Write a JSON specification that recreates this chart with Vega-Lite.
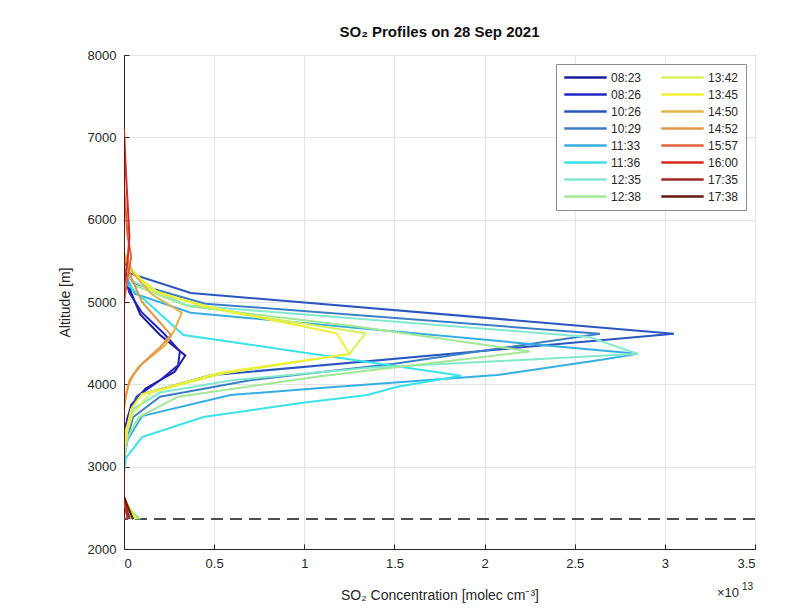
{
  "$schema": "https://vega.github.io/schema/vega-lite/v6.json",
  "autosize": {"type": "none"},
  "width": 631,
  "height": 494,
  "padding": {"left": 124, "top": 55, "right": 53, "bottom": 63},
  "background": "white",
  "config": {
    "font": "Liberation Sans",
    "view": {"stroke": "#262626", "strokeWidth": 1},
    "axis": {
      "labelFont": "Liberation Sans",
      "labelFontSize": 13,
      "labelColor": "#262626",
      "titleFont": "Liberation Sans",
      "titleFontSize": 14,
      "titleFontWeight": "normal",
      "titleColor": "#262626",
      "domainColor": "#262626",
      "tickColor": "#262626",
      "gridColor": "#e3e3e3",
      "gridWidth": 1
    }
  },
  "title": {
    "text": "SO₂ Profiles on 28 Sep 2021",
    "font": "Liberation Sans",
    "fontSize": 15,
    "fontWeight": "bold",
    "color": "#111111",
    "anchor": "middle",
    "offset": 9
  },
  "datasets": {
    "profiles": [
      {"time": "08:23", "alt": 2364, "conc": 0.03},
      {"time": "08:23", "alt": 2630, "conc": 0},
      {"time": "08:23", "alt": 3200, "conc": 0},
      {"time": "08:23", "alt": 3500, "conc": 0.01},
      {"time": "08:23", "alt": 3750, "conc": 0.04},
      {"time": "08:23", "alt": 3950, "conc": 0.12},
      {"time": "08:23", "alt": 4150, "conc": 0.28},
      {"time": "08:23", "alt": 4350, "conc": 0.34},
      {"time": "08:23", "alt": 4600, "conc": 0.2},
      {"time": "08:23", "alt": 4850, "conc": 0.09},
      {"time": "08:23", "alt": 5110, "conc": 0.04},
      {"time": "08:23", "alt": 5350, "conc": 0.01},
      {"time": "08:23", "alt": 5600, "conc": 0},

      {"time": "08:26", "alt": 2364, "conc": 0.04},
      {"time": "08:26", "alt": 2630, "conc": 0},
      {"time": "08:26", "alt": 3300, "conc": 0},
      {"time": "08:26", "alt": 3600, "conc": 0.02},
      {"time": "08:26", "alt": 3850, "conc": 0.07},
      {"time": "08:26", "alt": 4050, "conc": 0.2},
      {"time": "08:26", "alt": 4230, "conc": 0.3},
      {"time": "08:26", "alt": 4400, "conc": 0.31},
      {"time": "08:26", "alt": 4620, "conc": 0.22},
      {"time": "08:26", "alt": 4870, "conc": 0.1},
      {"time": "08:26", "alt": 5110, "conc": 0.03},
      {"time": "08:26", "alt": 5350, "conc": 0},

      {"time": "10:26", "alt": 2364, "conc": 0.05},
      {"time": "10:26", "alt": 2630, "conc": 0},
      {"time": "10:26", "alt": 3250, "conc": 0},
      {"time": "10:26", "alt": 3500, "conc": 0.02},
      {"time": "10:26", "alt": 3700, "conc": 0.04},
      {"time": "10:26", "alt": 3870, "conc": 0.08},
      {"time": "10:26", "alt": 4110, "conc": 0.48},
      {"time": "10:26", "alt": 4615, "conc": 3.05},
      {"time": "10:26", "alt": 5110, "conc": 0.37},
      {"time": "10:26", "alt": 5350, "conc": 0.03},
      {"time": "10:26", "alt": 5600, "conc": 0},

      {"time": "10:29", "alt": 2364, "conc": 0.05},
      {"time": "10:29", "alt": 2630, "conc": 0},
      {"time": "10:29", "alt": 3100, "conc": 0},
      {"time": "10:29", "alt": 3350, "conc": 0.02},
      {"time": "10:29", "alt": 3600, "conc": 0.05},
      {"time": "10:29", "alt": 3850, "conc": 0.2},
      {"time": "10:29", "alt": 4050, "conc": 0.7},
      {"time": "10:29", "alt": 4250, "conc": 1.5},
      {"time": "10:29", "alt": 4615, "conc": 2.64},
      {"time": "10:29", "alt": 4980, "conc": 0.45},
      {"time": "10:29", "alt": 5230, "conc": 0.05},
      {"time": "10:29", "alt": 5450, "conc": 0},

      {"time": "11:33", "alt": 2364, "conc": 0.06},
      {"time": "11:33", "alt": 2630, "conc": 0},
      {"time": "11:33", "alt": 3100, "conc": 0},
      {"time": "11:33", "alt": 3324, "conc": 0.02},
      {"time": "11:33", "alt": 3615, "conc": 0.1},
      {"time": "11:33", "alt": 3870, "conc": 0.59},
      {"time": "11:33", "alt": 3955, "conc": 1.09},
      {"time": "11:33", "alt": 4113, "conc": 2.07},
      {"time": "11:33", "alt": 4296, "conc": 2.64},
      {"time": "11:33", "alt": 4370, "conc": 2.85},
      {"time": "11:33", "alt": 4870, "conc": 0.37},
      {"time": "11:33", "alt": 5100, "conc": 0.06},
      {"time": "11:33", "alt": 5350, "conc": 0},

      {"time": "11:36", "alt": 2364, "conc": 0.04},
      {"time": "11:36", "alt": 2630, "conc": 0},
      {"time": "11:36", "alt": 2900, "conc": 0},
      {"time": "11:36", "alt": 3105, "conc": 0.01},
      {"time": "11:36", "alt": 3360, "conc": 0.1},
      {"time": "11:36", "alt": 3603, "conc": 0.44},
      {"time": "11:36", "alt": 3773, "conc": 0.98},
      {"time": "11:36", "alt": 3870, "conc": 1.35},
      {"time": "11:36", "alt": 3968, "conc": 1.51},
      {"time": "11:36", "alt": 4105, "conc": 1.87},
      {"time": "11:36", "alt": 4600, "conc": 0.33},
      {"time": "11:36", "alt": 5230, "conc": 0.01},
      {"time": "11:36", "alt": 5400, "conc": 0},

      {"time": "12:35", "alt": 2364, "conc": 0.08},
      {"time": "12:35", "alt": 2530, "conc": 0.01},
      {"time": "12:35", "alt": 2630, "conc": 0},
      {"time": "12:35", "alt": 3200, "conc": 0},
      {"time": "12:35", "alt": 3450, "conc": 0.01},
      {"time": "12:35", "alt": 3700, "conc": 0.05},
      {"time": "12:35", "alt": 3900, "conc": 0.2},
      {"time": "12:35", "alt": 4050, "conc": 0.6},
      {"time": "12:35", "alt": 4200, "conc": 1.36},
      {"time": "12:35", "alt": 4370, "conc": 2.85},
      {"time": "12:35", "alt": 4575, "conc": 2.58},
      {"time": "12:35", "alt": 4960, "conc": 0.35},
      {"time": "12:35", "alt": 5250, "conc": 0.05},
      {"time": "12:35", "alt": 5450, "conc": 0},

      {"time": "12:38", "alt": 2364, "conc": 0.09},
      {"time": "12:38", "alt": 2530, "conc": 0.01},
      {"time": "12:38", "alt": 2630, "conc": 0},
      {"time": "12:38", "alt": 3100, "conc": 0},
      {"time": "12:38", "alt": 3350, "conc": 0.02},
      {"time": "12:38", "alt": 3600, "conc": 0.08},
      {"time": "12:38", "alt": 3850, "conc": 0.3},
      {"time": "12:38", "alt": 4100, "conc": 1.1},
      {"time": "12:38", "alt": 4400, "conc": 2.25},
      {"time": "12:38", "alt": 4700, "conc": 1.3},
      {"time": "12:38", "alt": 4950, "conc": 0.35},
      {"time": "12:38", "alt": 5200, "conc": 0.06},
      {"time": "12:38", "alt": 5450, "conc": 0},

      {"time": "13:42", "alt": 2364, "conc": 0.07},
      {"time": "13:42", "alt": 2530, "conc": 0.01},
      {"time": "13:42", "alt": 2630, "conc": 0},
      {"time": "13:42", "alt": 3200, "conc": 0},
      {"time": "13:42", "alt": 3450, "conc": 0.02},
      {"time": "13:42", "alt": 3650, "conc": 0.05},
      {"time": "13:42", "alt": 3900, "conc": 0.15},
      {"time": "13:42", "alt": 4130, "conc": 0.55},
      {"time": "13:42", "alt": 4370, "conc": 1.25},
      {"time": "13:42", "alt": 4620, "conc": 1.34},
      {"time": "13:42", "alt": 4870, "conc": 0.6},
      {"time": "13:42", "alt": 5100, "conc": 0.2},
      {"time": "13:42", "alt": 5350, "conc": 0.05},
      {"time": "13:42", "alt": 5550, "conc": 0},

      {"time": "13:45", "alt": 2364, "conc": 0.06},
      {"time": "13:45", "alt": 2630, "conc": 0},
      {"time": "13:45", "alt": 3250, "conc": 0},
      {"time": "13:45", "alt": 3500, "conc": 0.02},
      {"time": "13:45", "alt": 3700, "conc": 0.04},
      {"time": "13:45", "alt": 3880, "conc": 0.1},
      {"time": "13:45", "alt": 4140, "conc": 0.53},
      {"time": "13:45", "alt": 4370, "conc": 1.25},
      {"time": "13:45", "alt": 4620, "conc": 1.18},
      {"time": "13:45", "alt": 4960, "conc": 0.42},
      {"time": "13:45", "alt": 5150, "conc": 0.15},
      {"time": "13:45", "alt": 5400, "conc": 0.04},
      {"time": "13:45", "alt": 5600, "conc": 0},

      {"time": "14:50", "alt": 2364, "conc": 0.03},
      {"time": "14:50", "alt": 2630, "conc": 0},
      {"time": "14:50", "alt": 3800, "conc": 0},
      {"time": "14:50", "alt": 3950, "conc": 0.02},
      {"time": "14:50", "alt": 4113, "conc": 0.05},
      {"time": "14:50", "alt": 4210, "conc": 0.08},
      {"time": "14:50", "alt": 4478, "conc": 0.23},
      {"time": "14:50", "alt": 4660, "conc": 0.28},
      {"time": "14:50", "alt": 4870, "conc": 0.32},
      {"time": "14:50", "alt": 5100, "conc": 0.15},
      {"time": "14:50", "alt": 5350, "conc": 0.05},
      {"time": "14:50", "alt": 5600, "conc": 0},

      {"time": "14:52", "alt": 2364, "conc": 0.02},
      {"time": "14:52", "alt": 2630, "conc": 0},
      {"time": "14:52", "alt": 3700, "conc": 0},
      {"time": "14:52", "alt": 3850, "conc": 0.01},
      {"time": "14:52", "alt": 4050, "conc": 0.03},
      {"time": "14:52", "alt": 4250, "conc": 0.1},
      {"time": "14:52", "alt": 4450, "conc": 0.2},
      {"time": "14:52", "alt": 4600, "conc": 0.26},
      {"time": "14:52", "alt": 4800, "conc": 0.18},
      {"time": "14:52", "alt": 5000, "conc": 0.1},
      {"time": "14:52", "alt": 5300, "conc": 0.04},
      {"time": "14:52", "alt": 5550, "conc": 0},

      {"time": "15:57", "alt": 2364, "conc": 0.02},
      {"time": "15:57", "alt": 2630, "conc": 0},
      {"time": "15:57", "alt": 5000, "conc": 0},
      {"time": "15:57", "alt": 5300, "conc": 0.02},
      {"time": "15:57", "alt": 5550, "conc": 0.04},
      {"time": "15:57", "alt": 5800, "conc": 0.02},
      {"time": "15:57", "alt": 6100, "conc": 0.01},
      {"time": "15:57", "alt": 6400, "conc": 0},

      {"time": "16:00", "alt": 2364, "conc": 0.02},
      {"time": "16:00", "alt": 2630, "conc": 0},
      {"time": "16:00", "alt": 5200, "conc": 0},
      {"time": "16:00", "alt": 5500, "conc": 0.02},
      {"time": "16:00", "alt": 5800, "conc": 0.03},
      {"time": "16:00", "alt": 6200, "conc": 0.02},
      {"time": "16:00", "alt": 6600, "conc": 0.01},
      {"time": "16:00", "alt": 7100, "conc": 0},

      {"time": "17:35", "alt": 2364, "conc": 0.03},
      {"time": "17:35", "alt": 2630, "conc": 0},
      {"time": "17:35", "alt": 6800, "conc": 0},

      {"time": "17:38", "alt": 2364, "conc": 0.05},
      {"time": "17:38", "alt": 2630, "conc": 0},
      {"time": "17:38", "alt": 7000, "conc": 0}
    ],
    "ground": [{"alt": 2364}],
    "scale_note": [{"conc": 3.5, "alt": 2000, "base": "×10", "power": "13"}]
  },
  "layer": [
    {
      "data": {"name": "ground"},
      "mark": {"type": "rule", "color": "#4d4d4d", "strokeWidth": 2, "strokeDash": [12, 7]},
      "encoding": {
        "y": {"field": "alt", "type": "quantitative", "scale": {"domain": [2000, 8000]}}
      }
    },
    {
      "data": {"name": "profiles"},
      "mark": {"type": "line", "strokeWidth": 2, "clip": true},
      "encoding": {
        "x": {
          "field": "conc",
          "type": "quantitative",
          "scale": {"domain": [0, 3.5], "nice": false, "zero": true},
          "axis": {
            "title": "SO₂ Concentration [molec cm⁻³]",
            "values": [0, 0.5, 1, 1.5, 2, 2.5, 3, 3.5],
            "format": "~g",
            "tickSize": -5,
            "labelPadding": 13,
            "titlePadding": 18,
            "grid": true
          }
        },
        "y": {
          "field": "alt",
          "type": "quantitative",
          "scale": {"domain": [2000, 8000], "nice": false, "zero": false},
          "axis": {
            "title": "Altitude [m]",
            "values": [2000, 3000, 4000, 5000, 6000, 7000, 8000],
            "format": "d",
            "tickSize": -5,
            "labelPadding": 13,
            "titlePadding": 15,
            "grid": true
          }
        },
        "order": {"field": "alt", "type": "quantitative"},
        "color": {
          "field": "time",
          "type": "nominal",
          "scale": {
            "domain": ["08:23", "08:26", "10:26", "10:29", "11:33", "11:36", "12:35", "12:38", "13:42", "13:45", "14:50", "14:52", "15:57", "16:00", "17:35", "17:38"],
            "range": ["#1c1c9a", "#2424c4", "#2b55bf", "#3d7fc6", "#36aee3", "#3ae2ea", "#84e8cc", "#a2e896", "#d6f25a", "#f2f034", "#e4b446", "#e2964a", "#e2603a", "#d42a22", "#9e2a22", "#641810"]
          },
          "legend": {
            "title": null,
            "orient": "top-right",
            "offset": 9,
            "columns": 2,
            "direction": "vertical",
            "symbolType": "stroke",
            "symbolSize": 1800,
            "symbolStrokeWidth": 2.5,
            "clipHeight": 13,
            "labelFont": "Liberation Sans",
            "labelFontSize": 12,
            "labelColor": "#262626",
            "rowPadding": 4,
            "columnPadding": 18,
            "labelOffset": 3,
            "padding": 7,
            "strokeColor": "#8c8c8c",
            "fillColor": "white"
          }
        }
      }
    },
    {
      "data": {"name": "scale_note"},
      "mark": {"type": "text", "align": "right", "baseline": "alphabetic", "dy": 48, "dx": -16, "fontSize": 13, "font": "Liberation Sans", "color": "#262626"},
      "encoding": {
        "x": {"field": "conc", "type": "quantitative"},
        "y": {"field": "alt", "type": "quantitative"},
        "text": {"field": "base"}
      }
    },
    {
      "data": {"name": "scale_note"},
      "mark": {"type": "text", "align": "right", "baseline": "alphabetic", "dy": 41, "dx": -2, "fontSize": 10, "font": "Liberation Sans", "color": "#262626"},
      "encoding": {
        "x": {"field": "conc", "type": "quantitative"},
        "y": {"field": "alt", "type": "quantitative"},
        "text": {"field": "power"}
      }
    }
  ]
}
